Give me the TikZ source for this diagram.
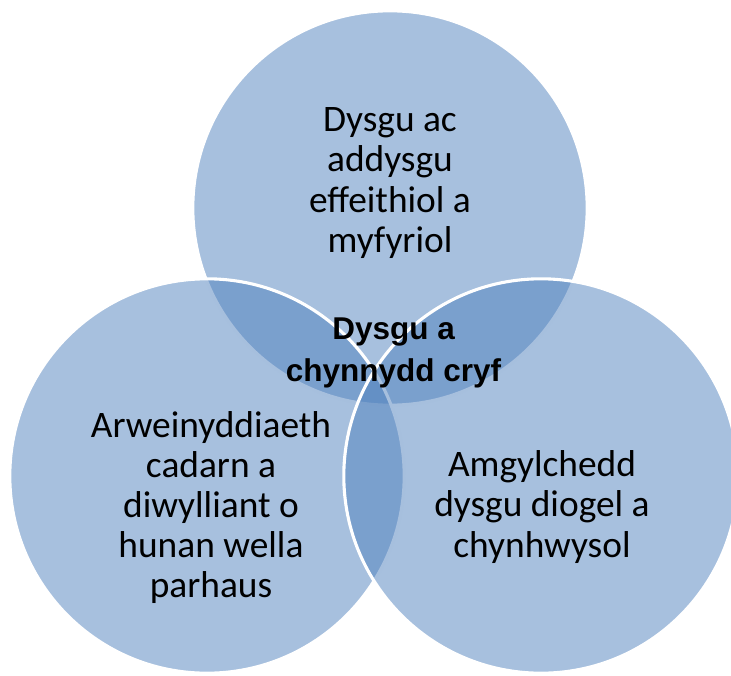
\documentclass[tikz,border=0pt]{standalone}
\usepackage{fontspec}
\setmainfont{Carlito}
\newfontfamily\centrefont{Liberation Sans}
\usepackage{tikz}
\usetikzlibrary{positioning, calc}

\begin{document}
\begin{tikzpicture}
	
	% Colori
	\definecolor{vennblue}{RGB}{79,129,189}
	\tikzset{
		cerchio/.style={fill=vennblue, fill opacity=0.5, draw=white, line width=2.2pt},
		testo/.style={align=center, text=black, font=\fontsize{26.6pt}{28.5pt}\selectfont},
		centro/.style={align=center, text=black, font=\centrefont\bfseries\fontsize{22.4pt}{29.9pt}\selectfont}
	}
	\useasboundingbox (0,0) rectangle (18.275,16.875);
	
	% Tre cerchi
	\filldraw[cerchio] (9.75,11.675) circle (4.93cm);
	\filldraw[cerchio] (5.175,4.975) circle (4.93cm);
	\filldraw[cerchio] (13.525,4.975) circle (4.93cm);
	
	% Testi dei cerchi
	\node[testo] (apprendimento) at (9.75,12.3) {Dysgu ac\\addysgu\\effeithiol a\\myfyriol};
	\node[testo] (leadership) at (5.275,4.18) {Arweinyddiaeth\\cadarn a\\diwylliant o\\hunan wella\\parhaus};
	\node[testo] (ambiente) at (13.55,4.2) {Amgylchedd\\dysgu diogel a\\chynhwysol};
	
	% Testo centrale
	\node[centro] (centrale) at (9.84,8.06) {Dysgu a\\chynnydd cryf};
	
\end{tikzpicture}
\end{document}
